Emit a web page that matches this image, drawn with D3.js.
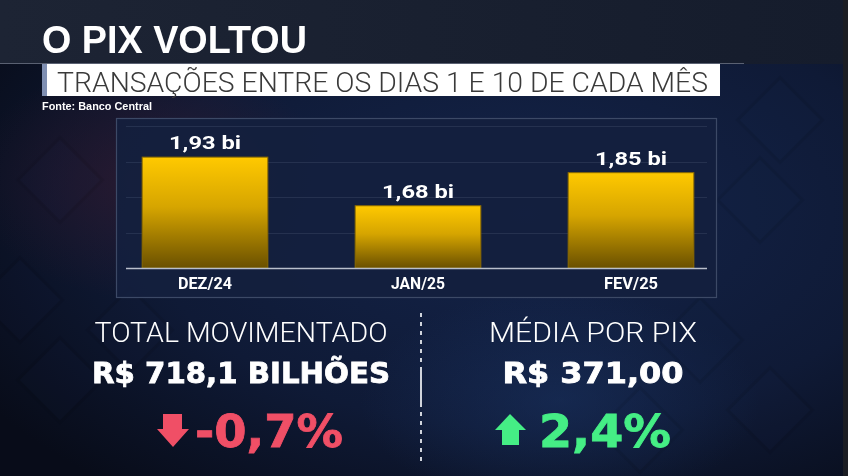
<!DOCTYPE html>
<html><head><meta charset="utf-8">
<script src="https://cdn.jsdelivr.net/npm/d3@7"></script>
<style>html,body{margin:0;padding:0;background:#0d1426;overflow:hidden}svg{display:block}</style>
</head><body><svg id="c" width="848" height="476"></svg>
<script>
// ---- data ----
const categories = ["DEZ/24", "JAN/25", "FEV/25"];
const values = [1.93, 1.68, 1.85];
const valueLabels = ["1,93 bi", "1,68 bi", "1,85 bi"];
const title = "O PIX VOLTOU";
const subtitle = "TRANSAÇÕES ENTRE OS DIAS 1 E 10 DE CADA MÊS";
const source = "Fonte: Banco Central";
const statLabels = ["TOTAL MOVIMENTADO", "MÉDIA POR PIX"];
const statValues = ["R$ 718,1 BILHÕES", "R$ 371,00"];
const statChanges = ["-0,7%", "2,4%"];
const statDirections = ["down", "up"];

(function () {
const svg = d3.select("#c");
const W = 848, H = 476;
const defs = svg.append("defs");

// background gradients
const bg = defs.append("radialGradient").attr("id", "bg").attr("cx", "0.62").attr("cy", "0.45").attr("r", "0.75");
bg.append("stop").attr("offset", "0").attr("stop-color", "#14244a");
bg.append("stop").attr("offset", "0.6").attr("stop-color", "#0f1a36");
bg.append("stop").attr("offset", "1").attr("stop-color", "#080c19");
const topBand = defs.append("linearGradient").attr("id", "topband").attr("x1", 0).attr("x2", 1);
topBand.append("stop").attr("offset", 0).attr("stop-color", "#1d2434");
topBand.append("stop").attr("offset", 1).attr("stop-color", "#151c2c");
const barG = defs.append("linearGradient").attr("id", "barg").attr("x1", 0).attr("x2", 0).attr("y1", 0).attr("y2", 1);
barG.append("stop").attr("offset", 0).attr("stop-color", "#ffc900");
barG.append("stop").attr("offset", 0.45).attr("stop-color", "#d6a500");
barG.append("stop").attr("offset", 1).attr("stop-color", "#6a5000");
const glow = defs.append("radialGradient").attr("id", "glow");
glow.append("stop").attr("offset", 0).attr("stop-color", "#3a1a2e").attr("stop-opacity", 0.6);
glow.append("stop").attr("offset", 1).attr("stop-color", "#3a1a2e").attr("stop-opacity", 0);
const glow2 = defs.append("radialGradient").attr("id", "glow2");
glow2.append("stop").attr("offset", 0).attr("stop-color", "#1b3566").attr("stop-opacity", 0.5);
glow2.append("stop").attr("offset", 1).attr("stop-color", "#1b3566").attr("stop-opacity", 0);

svg.append("rect").attr("width", W).attr("height", H).attr("fill", "url(#bg)");
svg.append("ellipse").attr("cx", 150).attr("cy", 180).attr("rx", 180).attr("ry", 120).attr("fill", "url(#glow)");
svg.append("ellipse").attr("cx", 560).attr("cy", 400).attr("rx", 200).attr("ry", 110).attr("fill", "url(#glow2)");

// faint diamond texture
const dia = svg.append("g").attr("opacity", 0.07);
[[60,380],[130,330],[20,300],[700,340],[770,410],[640,430],[760,200],[780,120],[60,180]].forEach(([cx, cy]) => {
  dia.append("rect").attr("x", -30).attr("y", -30).attr("width", 60).attr("height", 60)
    .attr("transform", `translate(${cx},${cy}) rotate(45)`)
    .attr("fill", "#22325a").attr("stroke", "#000000").attr("stroke-width", 3);
});

// top band
svg.append("rect").attr("x", 0).attr("y", 0).attr("width", W).attr("height", 64).attr("fill", "url(#topband)");
svg.append("line").attr("x1", 0).attr("x2", 744).attr("y1", 63.5).attr("y2", 63.5).attr("stroke", "#5a6172").attr("stroke-width", 1);
// right edge strip
svg.append("rect").attr("x", 843).attr("y", 0).attr("width", 5).attr("height", H).attr("fill", "#1b1d23");

// title
svg.append("text").attr("x", 42).attr("y", 53).text(title)
  .attr("font-family", "'Liberation Sans', Arial, sans-serif").attr("font-weight", 700)
  .attr("font-size", 38).attr("fill", "#ffffff")
  .attr("textLength", 265).attr("lengthAdjust", "spacingAndGlyphs");

// subtitle box
svg.append("rect").attr("x", 46).attr("y", 64).attr("width", 674).attr("height", 32).attr("fill", "#ffffff");
svg.append("rect").attr("x", 42).attr("y", 64).attr("width", 5).attr("height", 32).attr("fill", "#7f8fb2");
svg.append("text").attr("x", 57).attr("y", 91.5).text(subtitle)
  .attr("font-family", "Roboto, 'Liberation Sans', sans-serif").attr("font-weight", 300)
  .attr("font-size", 28).attr("fill", "#3a3a3a")
  .attr("textLength", 651).attr("lengthAdjust", "spacingAndGlyphs");

svg.append("text").attr("x", 42).attr("y", 110).text(source)
  .attr("font-family", "'Liberation Sans', Arial, sans-serif").attr("font-weight", 700)
  .attr("font-size", 10).attr("fill", "#ffffff")
  .attr("textLength", 110).attr("lengthAdjust", "spacingAndGlyphs");

// chart panel
svg.append("rect").attr("x", 116.5).attr("y", 118.5).attr("width", 600).attr("height", 179)
  .attr("fill", "#14203e").attr("fill-opacity", 0.92).attr("stroke", "#3c4966").attr("stroke-width", 1.2);

const x = d3.scaleBand().domain(categories).range([98.5, 737.5]).paddingInner(0.41).paddingOuter(0.205);
const y = d3.scaleLinear().domain([1.36, 2.09]).range([268, 126]);

const gridValues = d3.range(1, 5).map(i => y.domain()[0] + i * (y.domain()[1] - y.domain()[0]) / 4);
svg.append("g").selectAll("line").data(gridValues).join("line")
  .attr("x1", 126).attr("x2", 707)
  .attr("y1", d => Math.round(y(d)) + 0.5).attr("y2", d => Math.round(y(d)) + 0.5)
  .attr("stroke", "#25314f").attr("stroke-width", 1);

svg.append("g").selectAll("rect").data(values).join("rect")
  .attr("x", (d, i) => x(categories[i]))
  .attr("y", d => y(d))
  .attr("width", x.bandwidth())
  .attr("height", d => y(y.domain()[0]) - y(d))
  .attr("fill", "url(#barg)")
  .attr("stroke", "#8a6a00").attr("stroke-width", 1);

svg.append("g").selectAll("text").data(values).join("text")
  .attr("x", (d, i) => x(categories[i]) + x.bandwidth() / 2)
  .attr("y", d => y(d) - 8)
  .attr("text-anchor", "middle")
  .text((d, i) => valueLabels[i])
  .attr("font-family", "Roboto, 'Liberation Sans', sans-serif").attr("font-weight", 700)
  .attr("font-size", 18.5).attr("fill", "#ffffff")
  .attr("textLength", 72).attr("lengthAdjust", "spacingAndGlyphs");

// baseline
svg.append("line").attr("x1", 126).attr("x2", 707).attr("y1", 268.5).attr("y2", 268.5)
  .attr("stroke", "#b9bfcc").attr("stroke-width", 1.5);

const xAxis = svg.append("g").attr("transform", "translate(0,268)")
  .call(d3.axisBottom(x).tickSize(0).tickPadding(10));
xAxis.select(".domain").remove();
xAxis.selectAll("text")
  .attr("font-family", "Roboto, 'Liberation Sans', sans-serif").attr("font-weight", 700)
  .attr("font-size", 16).attr("fill", "#ffffff")
  .attr("textLength", 54).attr("lengthAdjust", "spacingAndGlyphs");

// stats
const centers = [241, 593];
const colors = {down: "#f04f66", up: "#45ee85"};
statLabels.forEach((lab, i) => {
  svg.append("text").attr("x", centers[i]).attr("y", 342).attr("text-anchor", "middle").text(lab)
    .attr("font-family", "Roboto, 'Liberation Sans', sans-serif").attr("font-weight", 300)
    .attr("font-size", 28).attr("fill", "#ffffff")
    .attr("textLength", i === 0 ? 293 : 208).attr("lengthAdjust", "spacingAndGlyphs");
  svg.append("text").attr("x", centers[i]).attr("y", 383).attr("text-anchor", "middle").text(statValues[i])
    .attr("font-family", "'DejaVu Sans', sans-serif").attr("font-weight", 700)
    .attr("font-size", 27.5).attr("fill", "#ffffff").attr("stroke", "#ffffff").attr("stroke-width", 0.8)
    .attr("textLength", i === 0 ? 298 : 181).attr("lengthAdjust", "spacingAndGlyphs");
});

// change values with arrows
const changeX = [195, 539];
const changeW = [148, 132];
statChanges.forEach((c, i) => {
  const col = colors[statDirections[i]];
  svg.append("text").attr("x", changeX[i]).attr("y", 447).text(c)
    .attr("font-family", "'DejaVu Sans', sans-serif").attr("font-weight", 700)
    .attr("font-size", 44).attr("fill", col).attr("stroke", col).attr("stroke-width", 0.8)
    .attr("textLength", changeW[i]).attr("lengthAdjust", "spacingAndGlyphs");
});
// down arrow (red)
svg.append("path").attr("d", "M163,414 H182 V429 H189 L173,447 L157,429 H163 Z").attr("fill", colors.down);
// up arrow (green)
svg.append("path").attr("d", "M510,414 L526,430 H519 V445 H502 V430 H495 Z").attr("fill", colors.up);

// divider
svg.append("line").attr("x1", 421).attr("x2", 421).attr("y1", 313).attr("y2", 463)
  .attr("stroke", "#d0d4dc").attr("stroke-width", 2).attr("stroke-dasharray", "4,5");
svg.append("line").attr("x1", 421).attr("x2", 421).attr("y1", 367).attr("y2", 407)
  .attr("stroke", "#d0d4dc").attr("stroke-width", 2);
})();
</script>
</body></html>
